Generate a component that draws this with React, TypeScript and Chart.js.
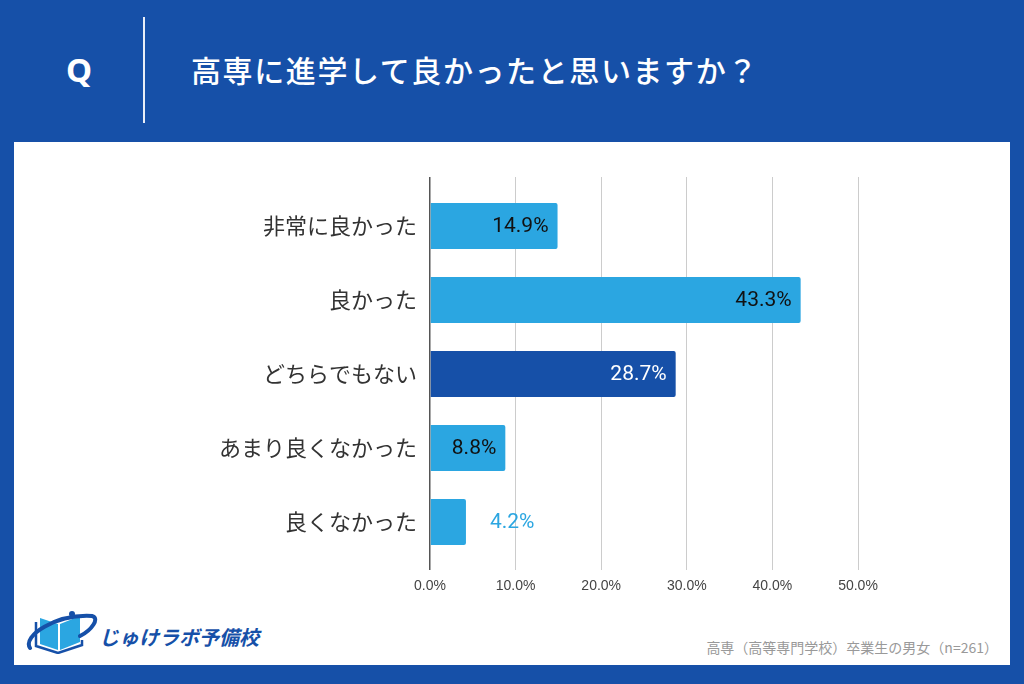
import React, { useEffect, useRef } from "react";
import { Chart, registerables } from "chart.js";

Chart.register(...registerables);

const questionTitle = "高専に進学して良かったと思いますか？";
const categories = ["非常に良かった", "良かった", "どちらでもない", "あまり良くなかった", "良くなかった"];
const values = [14.9, 43.3, 28.7, 8.8, 4.2];
const highlightIndex = 2;
const axisMax = 50;
const axisStep = 10;
const footnote = "高専（高等専門学校）卒業生の男女（n=261）";
const brandName = "じゅけラボ予備校";

const BLUE = "#1650A8";
const LIGHT = "#2BA6E1";

export default function App() {
  const ref = useRef<HTMLCanvasElement | null>(null);

  useEffect(() => {
    document.body.style.margin = "0";
    const canvas = ref.current;
    if (!canvas) return;

    const labelPlugin = {
      id: "valueLabels",
      afterDatasetsDraw(chart: any) {
        const ctx = chart.ctx;
        const meta = chart.getDatasetMeta(0);
        ctx.save();
        ctx.font = "21px Roboto, 'Noto Sans', sans-serif";
        ctx.textBaseline = "middle";
        meta.data.forEach((bar: any, i: number) => {
          const v = values[i];
          const text = v.toFixed(1) + "%";
          const w = bar.x - bar.base;
          if (w < 50) {
            ctx.textAlign = "left";
            ctx.fillStyle = LIGHT;
            ctx.fillText(text, bar.x + 24, bar.y + 1);
          } else {
            ctx.textAlign = "right";
            ctx.fillStyle = i === highlightIndex ? "#ffffff" : "#111111";
            ctx.fillText(text, bar.x - 9, bar.y + 1);
          }
        });
        ctx.restore();
      },
    };

    const gridColor = (c: any) => (c.index === 0 ? "#555555" : "#cccccc");
    const gridWidth = (c: any) => (c.index === 0 ? 1.5 : 1);

    const chart = new Chart(canvas, {
      type: "bar",
      data: {
        labels: categories,
        datasets: [
          {
            data: values,
            backgroundColor: values.map((_, i) => (i === highlightIndex ? BLUE : LIGHT)),
            borderRadius: 2,
            borderSkipped: "start",
            barPercentage: 0.62,
            categoryPercentage: 1,
          },
        ],
      },
      options: {
        indexAxis: "y",
        animation: false,
        responsive: false,
        maintainAspectRatio: false,
        layout: { padding: { left: 0, top: 177, right: 166, bottom: 0 } },
        plugins: { legend: { display: false }, tooltip: { enabled: false } },
        scales: {
          x: {
            type: "linear",
            position: "bottom",
            min: 0,
            max: axisMax,
            ticks: {
              stepSize: axisStep,
              color: "#444444",
              padding: 8,
              font: { size: 14, family: "'Liberation Sans', Arial, sans-serif" },
              callback: (v: any) => Number(v).toFixed(1) + "%",
            },
            grid: { color: gridColor, lineWidth: gridWidth, tickLength: 11, drawTicks: true },
            border: { display: false },
            afterFit: (s: any) => {
              s.height = 125;
            },
          },
          x2: {
            type: "linear",
            position: "top",
            min: 0,
            max: axisMax,
            ticks: { display: false, stepSize: axisStep },
            grid: { color: gridColor, lineWidth: gridWidth, tickLength: 12, drawOnChartArea: false, drawTicks: true },
            border: { display: false },
            afterFit: (s: any) => {
              s.height = 12;
            },
          },
          y: {
            type: "category",
            ticks: {
              color: "#333333",
              padding: 13,
              font: { size: 22, family: "'Noto Sans CJK JP', 'Noto Sans', sans-serif" },
            },
            grid: { display: false, drawTicks: false },
            border: { display: false },
            afterFit: (s: any) => {
              s.width = 430;
            },
          },
        },
      },
      plugins: [labelPlugin],
    } as any);

    return () => chart.destroy();
  }, []);

  return (
    <div
      style={{
        position: "absolute",
        left: 0,
        top: 0,
        width: 1024,
        height: 684,
        background: BLUE,
        overflow: "hidden",
        fontFamily: "'Noto Sans CJK JP', 'Noto Sans', sans-serif",
      }}
    >
      <div
        style={{
          position: "absolute",
          left: 61,
          top: 48,
          width: 36,
          textAlign: "center",
          color: "#fff",
          fontSize: 33,
          fontWeight: 700,
          lineHeight: "44px",
          fontFamily: "'Noto Sans', 'DejaVu Sans', sans-serif",
        }}
      >
        Q
      </div>
      <div style={{ position: "absolute", left: 143, top: 17, width: 2, height: 106, background: "rgba(255,255,255,0.9)" }} />
      <div
        style={{
          position: "absolute",
          left: 191,
          top: 47,
          color: "#fff",
          fontSize: 30,
          fontWeight: 500,
          lineHeight: "44px",
          letterSpacing: 1.6,
          whiteSpace: "nowrap",
        }}
      >
        {questionTitle}
      </div>
      <div style={{ position: "absolute", left: 14, top: 142, width: 996, height: 523, background: "#fff" }} />

      <svg style={{ position: "absolute", left: 26, top: 608 }} width="72" height="46" viewBox="0 0 72 46">
        <path d="M14 10 L14 36 L32 42 L32 16 Z" fill={LIGHT} />
        <path d="M34 16 L34 42 L54 34 L54 8 Z" fill={LIGHT} />
        <path d="M10 14 L10 38 L32 45 L56 37 L56 32" stroke={BLUE} strokeWidth="2.5" fill="none" />
        <path d="M4 40 C -4 28, 30 6, 66 8 C 74 10, 66 22, 54 28" stroke={BLUE} strokeWidth="4" fill="none" strokeLinecap="round" />
        <circle cx="46" cy="6" r="3" fill={BLUE} />
      </svg>
      <div
        style={{
          position: "absolute",
          left: 99,
          top: 622,
          color: BLUE,
          fontSize: 20,
          fontWeight: 700,
          lineHeight: "30px",
          fontStyle: "italic",
          whiteSpace: "nowrap",
        }}
      >
        {brandName}
      </div>
      <div
        style={{
          position: "absolute",
          right: 1024 - 998,
          top: 636,
          color: "#999",
          fontSize: 14,
          lineHeight: "22px",
          whiteSpace: "nowrap",
        }}
      >
        {footnote}
      </div>

      <canvas ref={ref} width={1024} height={684} style={{ position: "absolute", left: 0, top: 0, width: 1024, height: 684 }} />
    </div>
  );
}
